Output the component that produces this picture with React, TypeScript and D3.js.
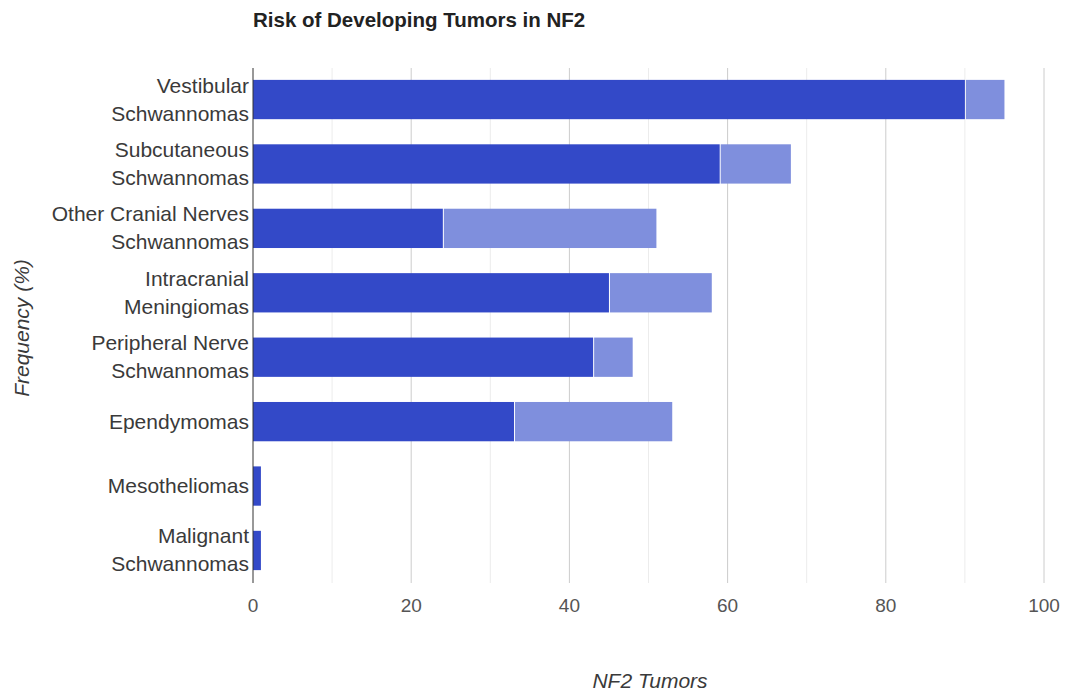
import { useEffect, useRef } from "react";
import * as d3 from "d3";

// Categories (each label split into display lines)
const CATEGORIES = [
  "Vestibular|Schwannomas",
  "Subcutaneous|Schwannomas",
  "Other Cranial Nerves|Schwannomas",
  "Intracranial|Meningiomas",
  "Peripheral Nerve|Schwannomas",
  "Ependymomas",
  "Mesotheliomas",
  "Malignant|Schwannomas",
];
// lower bound of reported frequency (%)
const LOW = [90, 59, 24, 45, 43, 33, 1, 1];
// extra range up to the upper bound (%)
const RANGE = [5, 9, 27, 13, 5, 20, 0, 0];
const X_TICKS = [0, 20, 40, 60, 80, 100];
const X_GRID = [10, 30, 50, 70, 90];

export default function App() {
  const svgRef = useRef<SVGSVGElement | null>(null);

  useEffect(() => {
    const width = 1068;
    const height = 694;
    const margin = { top: 68, right: 24, bottom: 111, left: 253 };
    const innerW = 1044 - margin.left;
    const innerH = height - margin.top - margin.bottom;

    const svg = d3.select(svgRef.current);
    svg.selectAll("*").remove();
    svg.attr("width", width).attr("height", height);

    const font = "Arial, 'Liberation Sans', sans-serif";

    const x = d3.scaleLinear().domain([0, 100]).range([0, innerW]);
    const y = d3.scaleBand<string>()
      .domain(CATEGORIES)
      .range([-1, 515])
      .paddingInner(0.39)
      .paddingOuter(0.2);

    const g = svg.append("g")
      .attr("transform", `translate(${margin.left},${margin.top})`);

    // ----- gridlines -----
    g.selectAll("line.minor")
      .data(X_GRID)
      .enter()
      .append("line")
      .attr("x1", (d) => x(d)).attr("x2", (d) => x(d))
      .attr("y1", 0).attr("y2", innerH)
      .attr("stroke", "#ececec").attr("stroke-width", 1);
    g.selectAll("line.major")
      .data(X_TICKS.filter((d) => d > 0))
      .enter()
      .append("line")
      .attr("x1", (d) => x(d)).attr("x2", (d) => x(d))
      .attr("y1", 0).attr("y2", innerH)
      .attr("stroke", "#cccccc").attr("stroke-width", 1);

    // ----- stacked bars -----
    const rows = CATEGORIES.map((c, i) => ({ c, low: LOW[i], range: RANGE[i] }));
    g.selectAll("rect.low")
      .data(rows)
      .enter()
      .append("rect")
      .attr("x", x(0))
      .attr("y", (d) => y(d.c)!)
      .attr("width", (d) => x(d.low) - x(0))
      .attr("height", y.bandwidth())
      .attr("fill", "#3349c8");
    g.selectAll("rect.range")
      .data(rows.filter((d) => d.range > 0))
      .enter()
      .append("rect")
      .attr("x", (d) => x(d.low) + 1)
      .attr("y", (d) => y(d.c)!)
      .attr("width", (d) => x(d.low + d.range) - x(d.low) - 1)
      .attr("height", y.bandwidth())
      .attr("fill", "#7f8fdd");

    // zero baseline
    g.append("line")
      .attr("x1", x(0)).attr("x2", x(0))
      .attr("y1", 0).attr("y2", innerH)
      .attr("stroke", "#333").attr("stroke-width", 1);

    // ----- category labels -----
    rows.forEach((d) => {
      const lines = d.c.split("|");
      const cy = y(d.c)! + y.bandwidth() / 2;
      const lh = 28;
      const t = g.append("text")
        .attr("text-anchor", "end")
        .attr("font-family", font)
        .attr("font-size", 21)
        .attr("fill", "#3a3a3a");
      lines.forEach((ln, j) => {
        const off = (j - (lines.length - 1) / 2) * lh;
        t.append("tspan")
          .attr("x", -4)
          .attr("y", cy + off + 7)
          .text(ln);
      });
    });

    // ----- x tick labels -----
    g.selectAll("text.tick")
      .data(X_TICKS)
      .enter()
      .append("text")
      .attr("x", (d) => x(d))
      .attr("y", innerH + 29)
      .attr("text-anchor", "middle")
      .attr("font-family", font)
      .attr("font-size", 19)
      .attr("fill", "#555")
      .text((d) => d);

    // ----- titles -----
    svg.append("text")
      .attr("x", 253).attr("y", 27)
      .attr("font-family", font)
      .attr("font-size", 20.5)
      .attr("font-weight", "bold")
      .attr("fill", "#222")
      .text("Risk of Developing Tumors in NF2");

    svg.append("text")
      .attr("x", 650).attr("y", 688)
      .attr("text-anchor", "middle")
      .attr("font-family", font)
      .attr("font-size", 21)
      .attr("font-style", "italic")
      .attr("fill", "#3a3a3a")
      .text("NF2 Tumors");

    svg.append("text")
      .attr("transform", "rotate(-90)")
      .attr("x", -328).attr("y", 29)
      .attr("text-anchor", "middle")
      .attr("font-family", font)
      .attr("font-size", 21)
      .attr("font-style", "italic")
      .attr("fill", "#3a3a3a")
      .text("Frequency (%)");
  }, []);

  return (
    <div style={{ position: "absolute", left: 0, top: 0, background: "#fff" }}>
      <svg ref={svgRef}></svg>
    </div>
  );
}
